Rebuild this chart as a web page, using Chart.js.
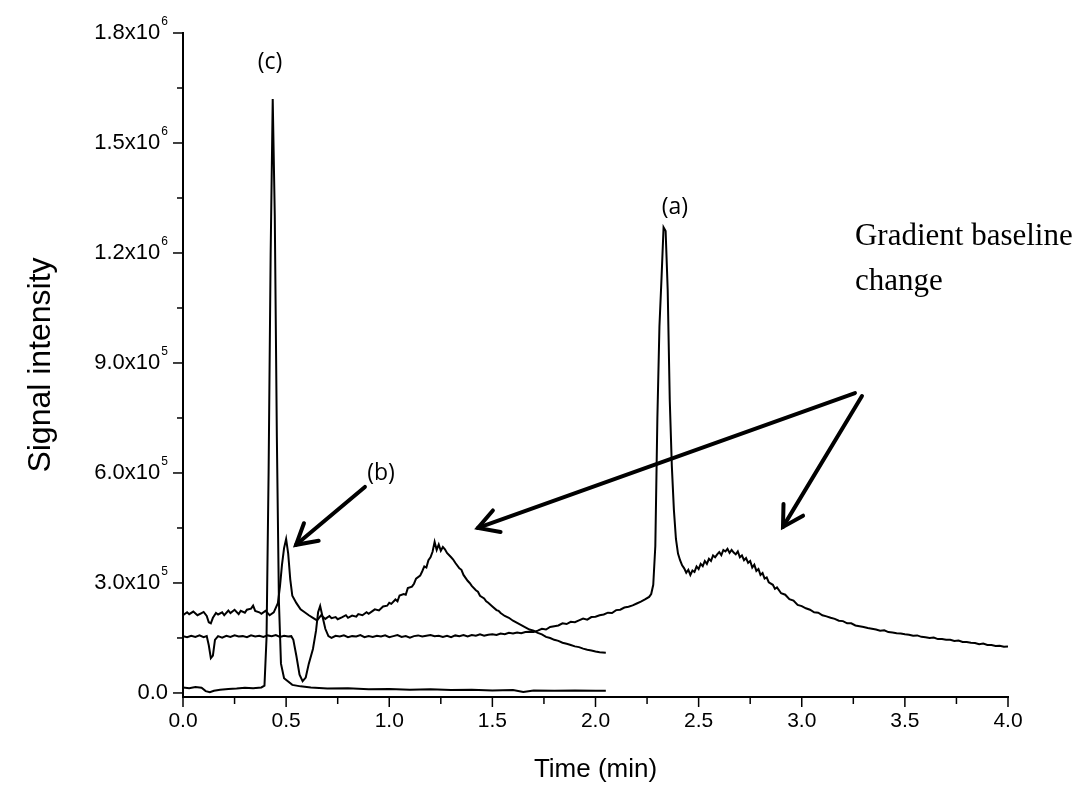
<!DOCTYPE html>
<html>
<head>
<meta charset="utf-8">
<title>Chromatogram</title>
<script src="https://cdn.jsdelivr.net/npm/chart.js@4.4.0/dist/chart.umd.min.js"></script>
<style>
  body { margin: 0; background: #fff; }
  #wrap { width: 1082px; height: 798px; }
</style>
</head>
<body>
<div id="wrap"><canvas id="chromChart" width="1082" height="798"></canvas></div>
<script>
// time in min, signal in units of 1e5 counts
// trace (a): gradient run 0-4 min
const traceA = [
  [0, 1.55], [0.02, 1.52], [0.04, 1.56], [0.06, 1.53], [0.08, 1.57], [0.1, 1.52], [0.115, 1.55],
  [0.125, 1.3], [0.135, 0.95], [0.145, 1.02], [0.155, 1.45], [0.17, 1.55], [0.19, 1.51], [0.21, 1.56],
  [0.23, 1.53], [0.25, 1.57], [0.27, 1.54], [0.29, 1.55], [0.31, 1.52], [0.33, 1.57], [0.35, 1.54],
  [0.37, 1.56], [0.39, 1.53], [0.41, 1.57], [0.43, 1.55], [0.45, 1.58], [0.47, 1.53], [0.49, 1.56],
  [0.51, 1.54], [0.525, 1.55], [0.535, 1.45], [0.55, 1.0], [0.565, 0.5], [0.58, 0.32], [0.595, 0.42],
  [0.61, 0.8], [0.63, 1.2], [0.645, 1.7], [0.655, 2.2], [0.665, 2.37], [0.675, 2.12], [0.69, 1.75],
  [0.705, 1.55], [0.72, 1.5], [0.74, 1.56], [0.76, 1.54], [0.78, 1.57], [0.8, 1.52], [0.82, 1.55],
  [0.84, 1.54], [0.86, 1.58], [0.88, 1.52], [0.9, 1.55], [0.92, 1.53], [0.94, 1.56], [0.96, 1.54],
  [0.98, 1.57], [1.0, 1.52], [1.02, 1.55], [1.04, 1.58], [1.06, 1.53], [1.08, 1.55], [1.1, 1.51],
  [1.12, 1.55], [1.14, 1.57], [1.16, 1.54], [1.18, 1.56], [1.2, 1.58], [1.22, 1.55], [1.24, 1.56],
  [1.26, 1.53], [1.28, 1.56], [1.3, 1.52], [1.32, 1.57], [1.34, 1.55], [1.36, 1.58], [1.38, 1.54],
  [1.4, 1.58], [1.42, 1.56], [1.44, 1.6], [1.46, 1.56], [1.48, 1.59], [1.5, 1.6], [1.52, 1.58],
  [1.54, 1.62], [1.56, 1.6], [1.58, 1.64], [1.6, 1.62], [1.62, 1.65], [1.64, 1.63], [1.66, 1.66],
  [1.68, 1.67], [1.7, 1.66], [1.72, 1.7], [1.74, 1.75], [1.76, 1.73], [1.78, 1.8], [1.8, 1.82],
  [1.82, 1.84], [1.84, 1.9], [1.86, 1.88], [1.88, 1.94], [1.9, 1.93], [1.92, 1.98], [1.94, 2.03],
  [1.96, 2.0], [1.98, 2.07], [2.0, 2.08], [2.02, 2.12], [2.04, 2.14], [2.06, 2.19], [2.08, 2.18],
  [2.1, 2.26], [2.12, 2.27], [2.14, 2.33], [2.16, 2.35], [2.18, 2.39], [2.2, 2.44], [2.22, 2.49],
  [2.24, 2.55], [2.26, 2.62], [2.27, 2.7], [2.28, 2.95], [2.29, 4.0], [2.3, 7.5], [2.31, 10.0],
  [2.32, 11.3], [2.33, 12.7], [2.34, 12.6], [2.35, 11.0], [2.36, 8.0], [2.37, 6.2], [2.38, 5.0],
  [2.39, 4.2], [2.4, 3.8], [2.41, 3.62], [2.42, 3.48], [2.43, 3.4], [2.44, 3.28], [2.45, 3.36],
  [2.46, 3.22], [2.47, 3.34], [2.48, 3.3], [2.49, 3.45], [2.5, 3.38], [2.51, 3.52], [2.52, 3.46],
  [2.53, 3.6], [2.54, 3.52], [2.55, 3.66], [2.56, 3.6], [2.57, 3.75], [2.58, 3.7], [2.59, 3.78],
  [2.6, 3.84], [2.61, 3.76], [2.62, 3.9], [2.63, 3.86], [2.64, 3.93], [2.65, 3.82], [2.66, 3.9],
  [2.67, 3.83], [2.68, 3.78], [2.69, 3.86], [2.7, 3.7], [2.71, 3.75], [2.72, 3.62], [2.73, 3.68],
  [2.74, 3.55], [2.75, 3.6], [2.76, 3.42], [2.77, 3.5], [2.78, 3.33], [2.79, 3.38], [2.8, 3.22],
  [2.81, 3.27], [2.82, 3.12], [2.83, 3.15], [2.84, 3.02], [2.86, 2.95], [2.87, 2.84], [2.88, 2.88],
  [2.9, 2.72], [2.92, 2.68], [2.94, 2.56], [2.96, 2.52], [2.98, 2.4], [3.0, 2.37], [3.02, 2.31],
  [3.04, 2.27], [3.06, 2.2], [3.08, 2.19], [3.1, 2.12], [3.12, 2.09], [3.14, 2.05], [3.16, 2.02],
  [3.18, 1.97], [3.2, 1.96], [3.22, 1.9], [3.24, 1.9], [3.26, 1.84], [3.28, 1.82], [3.3, 1.8],
  [3.32, 1.77], [3.34, 1.75], [3.36, 1.73], [3.38, 1.7], [3.4, 1.71], [3.42, 1.66], [3.44, 1.65],
  [3.46, 1.63], [3.48, 1.62], [3.5, 1.6], [3.52, 1.59], [3.54, 1.56], [3.56, 1.57], [3.58, 1.53],
  [3.6, 1.52], [3.62, 1.5], [3.64, 1.51], [3.66, 1.47], [3.68, 1.47], [3.7, 1.45], [3.72, 1.45],
  [3.74, 1.42], [3.76, 1.43], [3.78, 1.39], [3.8, 1.39], [3.82, 1.37], [3.84, 1.36], [3.86, 1.33],
  [3.88, 1.35], [3.9, 1.31], [3.92, 1.31], [3.94, 1.28], [3.96, 1.29], [3.98, 1.26], [4.0, 1.27]
];
// trace (b): 0-2 min run
const traceB = [
  [0, 2.12], [0.02, 2.2], [0.03, 2.15], [0.05, 2.22], [0.07, 2.12], [0.09, 2.18], [0.1, 2.21],
  [0.115, 2.1], [0.125, 1.93], [0.135, 1.9], [0.145, 2.05], [0.16, 2.18], [0.17, 2.14], [0.19, 2.2],
  [0.2, 2.12], [0.22, 2.25], [0.23, 2.18], [0.25, 2.27], [0.27, 2.15], [0.28, 2.24], [0.3, 2.19],
  [0.31, 2.27], [0.33, 2.3], [0.34, 2.38], [0.35, 2.24], [0.37, 2.2], [0.38, 2.16], [0.4, 2.24],
  [0.42, 2.12], [0.44, 2.2], [0.46, 2.45], [0.47, 2.9], [0.48, 3.5], [0.49, 3.95], [0.5, 4.2],
  [0.51, 3.8], [0.52, 3.1], [0.53, 2.65], [0.55, 2.45], [0.57, 2.28], [0.59, 2.2], [0.61, 2.12],
  [0.63, 2.05], [0.65, 1.98], [0.67, 2.12], [0.69, 2.02], [0.71, 2.1], [0.72, 2.04], [0.74, 2.07],
  [0.75, 2.01], [0.77, 2.06], [0.79, 2.12], [0.8, 2.05], [0.82, 2.11], [0.84, 2.08], [0.85, 2.15],
  [0.87, 2.12], [0.89, 2.2], [0.9, 2.16], [0.92, 2.24], [0.93, 2.28], [0.95, 2.25], [0.97, 2.36],
  [0.99, 2.38], [1.0, 2.46], [1.01, 2.43], [1.03, 2.55], [1.04, 2.5], [1.05, 2.66], [1.07, 2.7],
  [1.08, 2.68], [1.09, 2.86], [1.11, 2.9], [1.12, 2.98], [1.13, 3.12], [1.15, 3.2], [1.16, 3.32],
  [1.17, 3.45], [1.18, 3.42], [1.19, 3.62], [1.2, 3.7], [1.21, 3.85], [1.22, 4.12], [1.23, 3.9],
  [1.24, 4.05], [1.25, 3.88], [1.26, 3.98], [1.27, 3.92], [1.28, 3.82], [1.3, 3.7], [1.31, 3.64],
  [1.32, 3.55], [1.34, 3.4], [1.35, 3.36], [1.36, 3.22], [1.38, 3.06], [1.39, 3.0], [1.4, 2.92],
  [1.42, 2.8], [1.43, 2.76], [1.44, 2.65], [1.46, 2.58], [1.47, 2.5], [1.48, 2.46], [1.5, 2.36],
  [1.52, 2.26], [1.53, 2.24], [1.54, 2.18], [1.56, 2.1], [1.58, 2.05], [1.6, 1.97], [1.62, 1.91],
  [1.64, 1.85], [1.66, 1.79], [1.68, 1.73], [1.7, 1.7], [1.72, 1.64], [1.74, 1.6], [1.76, 1.53],
  [1.78, 1.5], [1.8, 1.45], [1.82, 1.42], [1.84, 1.37], [1.86, 1.34], [1.88, 1.31], [1.9, 1.27],
  [1.92, 1.25], [1.94, 1.21], [1.96, 1.18], [1.98, 1.16], [2.0, 1.13], [2.02, 1.11], [2.05, 1.1]
];
// trace (c): 0-2 min run
const traceC = [
  [0, 0.15], [0.03, 0.13], [0.06, 0.16], [0.09, 0.14], [0.11, 0.05], [0.13, 0.02], [0.15, 0.06],
  [0.18, 0.09], [0.22, 0.11], [0.26, 0.12], [0.3, 0.14], [0.34, 0.13], [0.38, 0.15], [0.395, 0.2],
  [0.405, 1.5], [0.415, 6.0], [0.425, 12.0], [0.435, 16.2], [0.445, 13.0], [0.455, 7.0],
  [0.465, 2.5], [0.475, 0.8], [0.49, 0.4], [0.53, 0.22], [0.57, 0.18], [0.62, 0.15], [0.7, 0.12],
  [0.8, 0.13], [0.9, 0.1], [1.0, 0.11], [1.1, 0.09], [1.2, 0.1], [1.3, 0.08], [1.4, 0.09],
  [1.5, 0.07], [1.6, 0.08], [1.65, 0.03], [1.7, 0.07], [1.8, 0.06], [1.9, 0.07], [2.0, 0.06], [2.05, 0.06]
];

const yMajor = [0, 3, 6, 9, 12, 15, 18];
const yMinor = [1.5, 4.5, 7.5, 10.5, 13.5, 16.5];
const yTickBase = ['0.0', '3.0x10', '6.0x10', '9.0x10', '1.2x10', '1.5x10', '1.8x10'];
const yTickExp = ['', '5', '5', '5', '6', '6', '6'];

const toPts = arr => arr.map(p => ({ x: p[0], y: p[1] }));

// text labels and arrows, in data coordinates (min, 1e5)
const notes = [
  { text: '(c)', x: 0.422, y: 17.21, font: '23px "Open Sans"', align: 'center' },
  { text: '(b)', x: 0.96, y: 6.0, font: '23px "Open Sans"', align: 'center' },
  { text: '(a)', x: 2.385, y: 13.23, font: '23px "Open Sans"', align: 'center' },
  { text: 'Gradient baseline', x: 3.258, y: 12.44, font: '31px "Liberation Serif"', align: 'left' },
  { text: 'change', x: 3.258, y: 11.21, font: '31px "Liberation Serif"', align: 'left' }
];
const arrows = [
  { from: [0.882, 5.62], to: [0.548, 4.04] },
  { from: [3.258, 8.18], to: [1.43, 4.5] },
  { from: [3.292, 8.1], to: [2.909, 4.53] }
];

const decorPlugin = {
  id: 'decor',
  afterDraw(chart) {
    const ctx = chart.ctx;
    const x = chart.scales.x, y = chart.scales.y;
    ctx.save();
    ctx.strokeStyle = '#000';
    ctx.fillStyle = '#000';
    ctx.lineWidth = 1.5;

    // tick marks, outward
    x.ticks.forEach(t => {
      const px = x.getPixelForValue(t.value);
      const major = Math.abs(t.value * 2 - Math.round(t.value * 2)) < 1e-6;
      ctx.beginPath();
      ctx.moveTo(px, y.bottom);
      ctx.lineTo(px, y.bottom + (major ? 10 : 7));
      ctx.stroke();
    });
    yMajor.concat(yMinor).forEach(v => {
      const py = y.getPixelForValue(v);
      const major = yMajor.includes(v);
      ctx.beginPath();
      ctx.moveTo(x.left, py);
      ctx.lineTo(x.left - (major ? 10 : 6), py);
      ctx.stroke();
    });

    // y tick labels with superscript exponent
    const rightEdge = x.left - 15;
    yMajor.forEach((v, i) => {
      const py = y.getPixelForValue(v);
      ctx.textBaseline = 'middle';
      ctx.textAlign = 'right';
      let end = rightEdge;
      if (yTickExp[i]) {
        ctx.font = '12px "Liberation Sans", Arial, sans-serif';
        ctx.fillText(yTickExp[i], rightEdge, py - 11);
        end = rightEdge - ctx.measureText(yTickExp[i]).width - 1;
      }
      ctx.font = '22px "Liberation Sans", Arial, sans-serif';
      ctx.fillText(yTickBase[i], end, py);
    });

    // annotations
    notes.forEach(n => {
      ctx.font = n.font;
      ctx.textAlign = n.align;
      ctx.textBaseline = 'middle';
      ctx.fillText(n.text, x.getPixelForValue(n.x), y.getPixelForValue(n.y));
    });

    ctx.lineWidth = 4;
    ctx.lineCap = 'round';
    ctx.lineJoin = 'miter';
    arrows.forEach(a => {
      const x1 = x.getPixelForValue(a.from[0]), y1 = y.getPixelForValue(a.from[1]);
      const x2 = x.getPixelForValue(a.to[0]), y2 = y.getPixelForValue(a.to[1]);
      const ang = Math.atan2(y2 - y1, x2 - x1);
      const head = 23, spread = 0.52;
      ctx.beginPath();
      ctx.moveTo(x1, y1);
      ctx.lineTo(x2, y2);
      ctx.stroke();
      ctx.beginPath();
      ctx.moveTo(x2 - head * Math.cos(ang - spread), y2 - head * Math.sin(ang - spread));
      ctx.lineTo(x2, y2);
      ctx.lineTo(x2 - head * Math.cos(ang + spread), y2 - head * Math.sin(ang + spread));
      ctx.stroke();
    });
    ctx.restore();
  }
};

const lineStyle = { borderColor: '#000', borderWidth: 2, pointRadius: 0, tension: 0, fill: false };

new Chart(document.getElementById('chromChart'), {
  type: 'line',
  data: {
    datasets: [
      Object.assign({ label: '(a)', data: toPts(traceA) }, lineStyle),
      Object.assign({ label: '(b)', data: toPts(traceB) }, lineStyle),
      Object.assign({ label: '(c)', data: toPts(traceC) }, lineStyle)
    ]
  },
  options: {
    responsive: false,
    animation: false,
    layout: { padding: { left: 0, right: 74, top: 33, bottom: 0 } },
    plugins: { legend: { display: false }, tooltip: { enabled: false } },
    scales: {
      x: {
        type: 'linear',
        min: 0,
        max: 4,
        grid: { display: false, drawTicks: false },
        border: { display: true, color: '#000', width: 2 },
        ticks: {
          stepSize: 0.25,
          padding: 12,
          color: '#000',
          font: { family: '"Liberation Sans", Arial, sans-serif', size: 21 },
          autoSkip: false,
          maxRotation: 0,
          callback: v => (Math.abs(v * 2 - Math.round(v * 2)) < 1e-6 ? v.toFixed(1) : '')
        },
        title: {
          display: true,
          text: 'Time (min)',
          color: '#000',
          font: { family: '"Liberation Sans", Arial, sans-serif', size: 26 },
          padding: { top: 0, bottom: 13 }
        },
        afterFit: s => { s.height = 101; }
      },
      y: {
        type: 'linear',
        min: -0.11,
        max: 18,
        grid: { display: false, drawTicks: false },
        border: { display: true, color: '#000', width: 2 },
        ticks: { display: false },
        title: {
          display: true,
          text: 'Signal intensity',
          color: '#000',
          font: { family: '"Liberation Sans", Arial, sans-serif', size: 32 },
          padding: { top: 22, bottom: 0 }
        },
        afterFit: s => { s.width = 183; }
      }
    }
  },
  plugins: [decorPlugin]
});
</script>
</body>
</html>
